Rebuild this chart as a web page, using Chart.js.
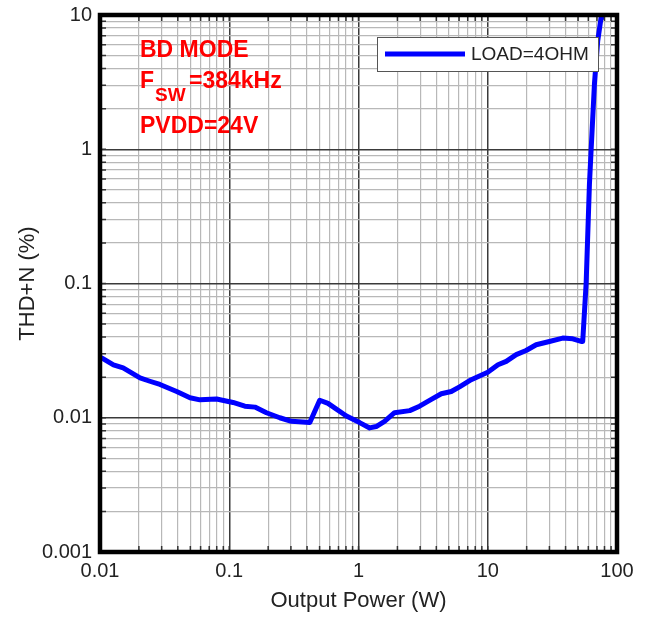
<!DOCTYPE html>
<html>
<head>
<meta charset="utf-8">
<script src="https://cdn.jsdelivr.net/npm/chart.js@4"></script>
<style>
  html,body{margin:0;padding:0;background:#fff;}
  #wrap{width:650px;height:618px;}
</style>
</head>
<body>
<div id="wrap"><canvas id="thd"></canvas></div>
<script>
// ======================= DATA =======================
const powerW=[0.0103,0.0127,0.0151,0.0204,0.0243,0.0291,0.0392,0.0497,0.0593,0.0798,
  0.107,0.132,0.158,0.194,0.246,0.303,0.42,0.501,0.581,0.806,
  1.02,1.22,1.37,1.59,1.90,2.49,2.97,3.66,4.37,5.22,6.05,7.45,
  10.0,12.0,13.9,16.6,19.8,23.7,30.0,38.0,45.5,52.8,
  54.3,57.7,61.2,63.1,66.9,70.9,75.3,76.5];
const thdPct=[0.0279,0.0248,0.0235,0.0198,0.0187,0.0177,0.0157,0.0141,0.0136,0.0138,
  0.0130,0.0122,0.0120,0.0109,0.0100,0.0094,0.0092,0.0135,0.0128,0.0103,
  0.0092,0.0084,0.0086,0.0094,0.0109,0.0113,0.0122,0.0137,0.0151,0.0157,0.0170,0.0192,
  0.0218,0.0248,0.0263,0.0295,0.0317,0.0350,0.0370,0.0392,0.0387,0.0370,
  0.037,0.1,0.55,1.0,3.06,6.4,9.55,11];

const xDecades=[0.01,0.1,1,10,100];
const yDecades=[0.001,0.01,0.1,1,10];
const minorSteps=[2,3,4,5,6,7,8,9];

const seriesLabel='LOAD=4OHM';
const xTitle='Output Power (W)';
const yTitle='THD+N (%)';
const noteLine1='BD MODE';
const noteF='F', noteSub='SW', noteFreq='=384kHz';
const noteLine3='PVDD=24V';

// ======================= HELPERS =======================
function isDecade(v){
  const l=Math.log10(v);
  return Math.abs(l-Math.round(l))<1e-6;
}
function allTicks(decades){
  const out=[];
  decades.forEach((d,i)=>{
    out.push(d);
    if(i<decades.length-1) minorSteps.forEach(m=>out.push(d*m));
  });
  return out;
}
const FONT='"Liberation Sans", Arial, sans-serif';
const gridColor=c=>c.tick&&isDecade(c.tick.value)?'#3a3a3a':'#b8b8b8';
const gridWidth=c=>c.tick&&isDecade(c.tick.value)?1.5:1.2;
const fmt=v=>isDecade(v)?String(v):'';

// ======================= PLUGINS =======================
const framePlugin={
  id:'frame',
  afterDatasetsDraw(chart){
    const {ctx,chartArea:a,scales:{x,y}}=chart;
    ctx.save();
    // small inner ticks
    ctx.strokeStyle='#333';ctx.lineWidth=1.5;
    allTicks(yDecades).forEach(v=>{
      const py=y.getPixelForValue(v);
      ctx.beginPath();
      ctx.moveTo(a.left,py);ctx.lineTo(a.left+6,py);
      ctx.moveTo(a.right,py);ctx.lineTo(a.right-6,py);
      ctx.stroke();
    });
    allTicks(xDecades).forEach(v=>{
      const px=x.getPixelForValue(v);
      ctx.beginPath();
      ctx.moveTo(px,a.bottom);ctx.lineTo(px,a.bottom-6);
      ctx.moveTo(px,a.top);ctx.lineTo(px,a.top+6);
      ctx.stroke();
    });
    // thick frame
    ctx.strokeStyle='#000';ctx.lineWidth=4.5;
    ctx.strokeRect(a.left,a.top,a.right-a.left,a.bottom-a.top);

    // legend box
    const ds=chart.data.datasets[0];
    ctx.fillStyle='#fff';ctx.fillRect(377,37,221,34);
    ctx.strokeStyle='#555';ctx.lineWidth=1;ctx.strokeRect(377.5,37.5,221,34);
    ctx.strokeStyle=ds.borderColor;ctx.lineWidth=5;
    ctx.beginPath();ctx.moveTo(385,54);ctx.lineTo(465,54);ctx.stroke();
    ctx.fillStyle='#222';ctx.font='19px '+FONT;ctx.textBaseline='middle';
    ctx.fillText(ds.label,471,55);

    // red notes
    ctx.fillStyle='#ff0000';ctx.textBaseline='alphabetic';
    ctx.font='bold 23px '+FONT;
    ctx.fillText(noteLine1,140,57);
    ctx.fillText(noteF,140,88);
    ctx.fillText(noteFreq,189,88);
    ctx.fillText(noteLine3,140,133);
    ctx.font='bold 19px '+FONT;
    ctx.fillText(noteSub,155,101);
    ctx.restore();
  }
};

// ======================= CHART =======================
new Chart(document.getElementById('thd'),{
  type:'line',
  data:{
    datasets:[{
      label:seriesLabel,
      data:powerW.map((p,i)=>({x:p,y:thdPct[i]})),
      borderColor:'#0000ff',
      borderWidth:5,
      borderJoinStyle:'round',
      borderCapStyle:'round',
      pointRadius:0,
      tension:0,
      fill:false
    }]
  },
  options:{
    responsive:true,
    maintainAspectRatio:false,
    animation:false,
    layout:{padding:{top:15,right:33,left:0,bottom:0}},
    plugins:{legend:{display:false},tooltip:{enabled:false}},
    scales:{
      x:{
        type:'logarithmic',min:0.01,max:100,
        afterBuildTicks:s=>{s.ticks=allTicks(xDecades).map(v=>({value:v}));},
        afterFit:s=>{s.height=66;s.paddingLeft=0;s.paddingRight=0;},
        border:{display:false},
        grid:{color:gridColor,lineWidth:gridWidth,drawTicks:false},
        ticks:{autoSkip:false,maxRotation:0,padding:7,color:'#222',font:{family:FONT,size:20},callback:fmt},
        title:{display:true,text:xTitle,color:'#222',font:{family:FONT,size:22},padding:{top:0,bottom:4}}
      },
      y:{
        type:'logarithmic',min:0.001,max:10,
        afterBuildTicks:s=>{s.ticks=allTicks(yDecades).map(v=>({value:v}));},
        afterFit:s=>{s.width=100;s.paddingTop=0;s.paddingBottom=0;},
        border:{display:false},
        grid:{color:gridColor,lineWidth:gridWidth,drawTicks:false},
        ticks:{autoSkip:false,padding:8,color:'#222',font:{family:FONT,size:20},callback:fmt},
        title:{display:true,text:yTitle,color:'#222',font:{family:FONT,size:22},padding:{top:15,bottom:0}}
      }
    }
  },
  plugins:[framePlugin]
});
</script>
</body>
</html>
